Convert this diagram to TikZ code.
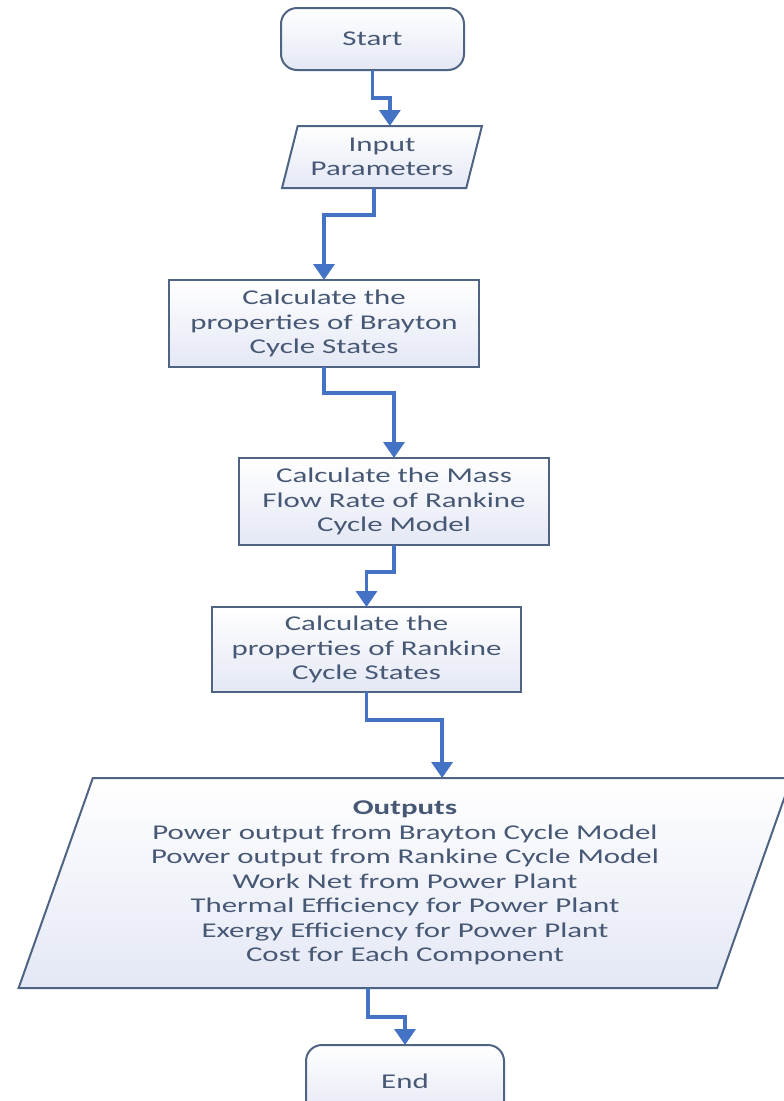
\documentclass[tikz,border=0pt]{standalone}
\usepackage{fontspec}
\setmainfont{Carlito}[FakeStretch=1.47]
\usetikzlibrary{shapes.geometric,arrows.meta}
\definecolor{txt}{HTML}{475875}
\definecolor{brd}{HTML}{4F6483}
\definecolor{conn}{HTML}{4472C4}
\definecolor{shade}{HTML}{E4E8F5}
\tikzset{
  base/.style={draw=brd, line width=2pt, shading=axis, shading angle=-45,
    top color=white, bottom color=shade, text=txt,
    align=center, outer sep=0pt, inner sep=2pt, font=\fontsize{21}{24.5}\selectfont},
  term/.style={base, rectangle, rounded corners=16pt},
  proc/.style={base, rectangle, minimum width=310pt},
  io/.style={base, trapezium, trapezium stretches=true},
  link/.style={draw=conn, line width=3.5pt, -{Triangle[width=21pt,length=16pt]}}
}
\begin{document}
\begin{tikzpicture}[x=1pt,y=-1pt]
\useasboundingbox (0,0) rectangle (784,1101);
\clip (0,0) rectangle (784,1101);
\node[term, minimum width=183pt, minimum height=62pt] (start) at (372.5,39) {Start};
\node[io, minimum width=200pt, minimum height=62pt,
  trapezium left angle=72.1, trapezium right angle=107.9] (in) at (382,157) {Input\\Parameters};
\node[proc, minimum height=87pt] (b1) at (324,323.5) {Calculate the\\properties of Brayton\\Cycle States};
\node[proc, minimum height=87pt] (b2) at (394,501.5) {Calculate the Mass\\Flow Rate of Rankine\\Cycle Model};
\node[proc, minimum width=309pt, minimum height=85pt] (b3) at (366.5,649.5) {Calculate the\\properties of Rankine\\Cycle States};
\node[io, minimum width=776pt, minimum height=210pt,
  trapezium left angle=70.1, trapezium right angle=109.9] (out) at (405,883)
  {\textbf{Outputs}\\Power output from Brayton Cycle Model\\Power output from Rankine Cycle Model\\Work Net from Power Plant\\Thermal Efficiency for Power Plant\\Exergy Efficiency for Power Plant\\Cost for Each Component};
\node[term, minimum width=198pt, minimum height=72pt] (end) at (405,1081) {End};
\draw[link] (start.south) -- ++(0,28) -| (in.top side);
\draw[link] (in.bottom side) -- ++(0,27) -| (b1.north);
\draw[link] (b1.south) -- ++(0,26) -| (b2.north);
\draw[link] (b2.south) -- ++(0,27) -| (b3.north);
\draw[link] (b3.south) -- ++(0,28) -| (out.top side);
\draw[link] (out.bottom side) -- ++(0,29) -| (end.north);
\end{tikzpicture}
\end{document}
